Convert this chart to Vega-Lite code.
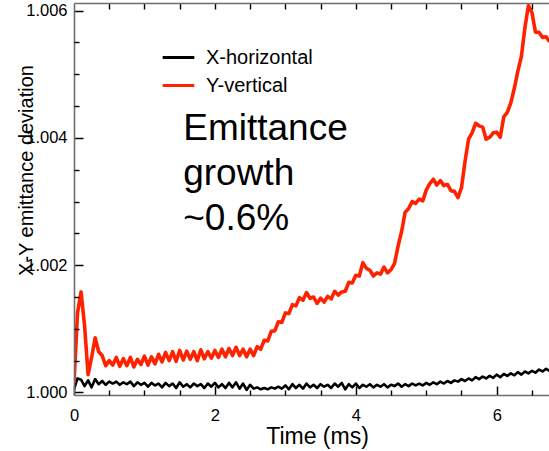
{
  "$schema": "https://vega.github.io/schema/vega-lite/v6.json",
  "width": 475,
  "height": 392,
  "autosize": {"type": "none"},
  "padding": {"left": 74, "top": 3, "right": 0, "bottom": 56},
  "background": "white",
  "config": {
    "view": {"stroke": null},
    "font": "Liberation Sans",
    "axis": {"grid": false, "domainColor": "#6e6e6e", "domainWidth": 1.6, "labelColor": "black", "titleColor": "black", "titleFontWeight": "normal"}
  },
  "datasets": {
    "emittance": [
      {"t": 0.00, "X-horizontal": 1.00005, "Y-vertical": 1.00015},
      {"t": 0.05, "X-horizontal": 1.00022, "Y-vertical": 1.00125},
      {"t": 0.10, "X-horizontal": 1.00020, "Y-vertical": 1.00158},
      {"t": 0.15, "X-horizontal": 1.00010, "Y-vertical": 1.00105},
      {"t": 0.20, "X-horizontal": 1.00019, "Y-vertical": 1.00028},
      {"t": 0.25, "X-horizontal": 1.00008, "Y-vertical": 1.00055},
      {"t": 0.30, "X-horizontal": 1.00021, "Y-vertical": 1.00086},
      {"t": 0.35, "X-horizontal": 1.00013, "Y-vertical": 1.00064},
      {"t": 0.40, "X-horizontal": 1.00018, "Y-vertical": 1.00058},
      {"t": 0.45, "X-horizontal": 1.00012, "Y-vertical": 1.00042},
      {"t": 0.50, "X-horizontal": 1.00017, "Y-vertical": 1.00050},
      {"t": 0.55, "X-horizontal": 1.00014, "Y-vertical": 1.00043},
      {"t": 0.60, "X-horizontal": 1.00017, "Y-vertical": 1.00055},
      {"t": 0.65, "X-horizontal": 1.00012, "Y-vertical": 1.00041},
      {"t": 0.70, "X-horizontal": 1.00016, "Y-vertical": 1.00053},
      {"t": 0.75, "X-horizontal": 1.00013, "Y-vertical": 1.00042},
      {"t": 0.80, "X-horizontal": 1.00017, "Y-vertical": 1.00055},
      {"t": 0.85, "X-horizontal": 1.00010, "Y-vertical": 1.00040},
      {"t": 0.90, "X-horizontal": 1.00016, "Y-vertical": 1.00052},
      {"t": 0.95, "X-horizontal": 1.00012, "Y-vertical": 1.00044},
      {"t": 1.00, "X-horizontal": 1.00015, "Y-vertical": 1.00057},
      {"t": 1.05, "X-horizontal": 1.00009, "Y-vertical": 1.00043},
      {"t": 1.10, "X-horizontal": 1.00015, "Y-vertical": 1.00056},
      {"t": 1.15, "X-horizontal": 1.00011, "Y-vertical": 1.00045},
      {"t": 1.20, "X-horizontal": 1.00014, "Y-vertical": 1.00060},
      {"t": 1.25, "X-horizontal": 1.00008, "Y-vertical": 1.00048},
      {"t": 1.30, "X-horizontal": 1.00015, "Y-vertical": 1.00063},
      {"t": 1.35, "X-horizontal": 1.00010, "Y-vertical": 1.00050},
      {"t": 1.40, "X-horizontal": 1.00014, "Y-vertical": 1.00064},
      {"t": 1.45, "X-horizontal": 1.00007, "Y-vertical": 1.00049},
      {"t": 1.50, "X-horizontal": 1.00016, "Y-vertical": 1.00066},
      {"t": 1.55, "X-horizontal": 1.00009, "Y-vertical": 1.00051},
      {"t": 1.60, "X-horizontal": 1.00013, "Y-vertical": 1.00065},
      {"t": 1.65, "X-horizontal": 1.00008, "Y-vertical": 1.00052},
      {"t": 1.70, "X-horizontal": 1.00014, "Y-vertical": 1.00064},
      {"t": 1.75, "X-horizontal": 1.00010, "Y-vertical": 1.00050},
      {"t": 1.80, "X-horizontal": 1.00013, "Y-vertical": 1.00067},
      {"t": 1.85, "X-horizontal": 1.00007, "Y-vertical": 1.00053},
      {"t": 1.90, "X-horizontal": 1.00014, "Y-vertical": 1.00064},
      {"t": 1.95, "X-horizontal": 1.00009, "Y-vertical": 1.00054},
      {"t": 2.00, "X-horizontal": 1.00015, "Y-vertical": 1.00066},
      {"t": 2.05, "X-horizontal": 1.00008, "Y-vertical": 1.00055},
      {"t": 2.10, "X-horizontal": 1.00013, "Y-vertical": 1.00068},
      {"t": 2.15, "X-horizontal": 1.00007, "Y-vertical": 1.00056},
      {"t": 2.20, "X-horizontal": 1.00015, "Y-vertical": 1.00069},
      {"t": 2.25, "X-horizontal": 1.00008, "Y-vertical": 1.00058},
      {"t": 2.30, "X-horizontal": 1.00016, "Y-vertical": 1.00071},
      {"t": 2.35, "X-horizontal": 1.00006, "Y-vertical": 1.00058},
      {"t": 2.40, "X-horizontal": 1.00014, "Y-vertical": 1.00068},
      {"t": 2.45, "X-horizontal": 1.00004, "Y-vertical": 1.00056},
      {"t": 2.50, "X-horizontal": 1.00012, "Y-vertical": 1.00068},
      {"t": 2.55, "X-horizontal": 1.00006, "Y-vertical": 1.00058},
      {"t": 2.60, "X-horizontal": 1.00008, "Y-vertical": 1.00072},
      {"t": 2.65, "X-horizontal": 1.00005, "Y-vertical": 1.00068},
      {"t": 2.70, "X-horizontal": 1.00007, "Y-vertical": 1.00082},
      {"t": 2.75, "X-horizontal": 1.00005, "Y-vertical": 1.00081},
      {"t": 2.80, "X-horizontal": 1.00008, "Y-vertical": 1.00096},
      {"t": 2.85, "X-horizontal": 1.00006, "Y-vertical": 1.00097},
      {"t": 2.90, "X-horizontal": 1.00009, "Y-vertical": 1.00111},
      {"t": 2.95, "X-horizontal": 1.00006, "Y-vertical": 1.00110},
      {"t": 3.00, "X-horizontal": 1.00011, "Y-vertical": 1.00125},
      {"t": 3.05, "X-horizontal": 1.00005, "Y-vertical": 1.00124},
      {"t": 3.10, "X-horizontal": 1.00013, "Y-vertical": 1.00138},
      {"t": 3.15, "X-horizontal": 1.00007, "Y-vertical": 1.00136},
      {"t": 3.20, "X-horizontal": 1.00012, "Y-vertical": 1.00149},
      {"t": 3.25, "X-horizontal": 1.00006, "Y-vertical": 1.00145},
      {"t": 3.30, "X-horizontal": 1.00014, "Y-vertical": 1.00157},
      {"t": 3.35, "X-horizontal": 1.00008, "Y-vertical": 1.00148},
      {"t": 3.40, "X-horizontal": 1.00012, "Y-vertical": 1.00150},
      {"t": 3.45, "X-horizontal": 1.00007, "Y-vertical": 1.00140},
      {"t": 3.50, "X-horizontal": 1.00013, "Y-vertical": 1.00148},
      {"t": 3.55, "X-horizontal": 1.00009, "Y-vertical": 1.00142},
      {"t": 3.60, "X-horizontal": 1.00012, "Y-vertical": 1.00151},
      {"t": 3.65, "X-horizontal": 1.00007, "Y-vertical": 1.00147},
      {"t": 3.70, "X-horizontal": 1.00014, "Y-vertical": 1.00159},
      {"t": 3.75, "X-horizontal": 1.00009, "Y-vertical": 1.00153},
      {"t": 3.80, "X-horizontal": 1.00015, "Y-vertical": 1.00158},
      {"t": 3.85, "X-horizontal": 1.00005, "Y-vertical": 1.00159},
      {"t": 3.90, "X-horizontal": 1.00013, "Y-vertical": 1.00173},
      {"t": 3.95, "X-horizontal": 1.00008, "Y-vertical": 1.00172},
      {"t": 4.00, "X-horizontal": 1.00014, "Y-vertical": 1.00184},
      {"t": 4.05, "X-horizontal": 1.00007, "Y-vertical": 1.00183},
      {"t": 4.10, "X-horizontal": 1.00012, "Y-vertical": 1.00204},
      {"t": 4.15, "X-horizontal": 1.00009, "Y-vertical": 1.00195},
      {"t": 4.20, "X-horizontal": 1.00013, "Y-vertical": 1.00192},
      {"t": 4.25, "X-horizontal": 1.00008, "Y-vertical": 1.00183},
      {"t": 4.30, "X-horizontal": 1.00012, "Y-vertical": 1.00188},
      {"t": 4.35, "X-horizontal": 1.00009, "Y-vertical": 1.00186},
      {"t": 4.40, "X-horizontal": 1.00013, "Y-vertical": 1.00197},
      {"t": 4.45, "X-horizontal": 1.00008, "Y-vertical": 1.00188},
      {"t": 4.50, "X-horizontal": 1.00012, "Y-vertical": 1.00193},
      {"t": 4.55, "X-horizontal": 1.00010, "Y-vertical": 1.00203},
      {"t": 4.60, "X-horizontal": 1.00014, "Y-vertical": 1.00230},
      {"t": 4.65, "X-horizontal": 1.00009, "Y-vertical": 1.00253},
      {"t": 4.70, "X-horizontal": 1.00013, "Y-vertical": 1.00283},
      {"t": 4.75, "X-horizontal": 1.00010, "Y-vertical": 1.00289},
      {"t": 4.80, "X-horizontal": 1.00014, "Y-vertical": 1.00300},
      {"t": 4.85, "X-horizontal": 1.00011, "Y-vertical": 1.00297},
      {"t": 4.90, "X-horizontal": 1.00014, "Y-vertical": 1.00304},
      {"t": 4.95, "X-horizontal": 1.00011, "Y-vertical": 1.00301},
      {"t": 5.00, "X-horizontal": 1.00015, "Y-vertical": 1.00318},
      {"t": 5.05, "X-horizontal": 1.00012, "Y-vertical": 1.00328},
      {"t": 5.10, "X-horizontal": 1.00016, "Y-vertical": 1.00335},
      {"t": 5.15, "X-horizontal": 1.00013, "Y-vertical": 1.00326},
      {"t": 5.20, "X-horizontal": 1.00017, "Y-vertical": 1.00333},
      {"t": 5.25, "X-horizontal": 1.00014, "Y-vertical": 1.00325},
      {"t": 5.30, "X-horizontal": 1.00018, "Y-vertical": 1.00327},
      {"t": 5.35, "X-horizontal": 1.00015, "Y-vertical": 1.00317},
      {"t": 5.40, "X-horizontal": 1.00019, "Y-vertical": 1.00316},
      {"t": 5.45, "X-horizontal": 1.00017, "Y-vertical": 1.00306},
      {"t": 5.50, "X-horizontal": 1.00021, "Y-vertical": 1.00322},
      {"t": 5.55, "X-horizontal": 1.00018, "Y-vertical": 1.00363},
      {"t": 5.60, "X-horizontal": 1.00022, "Y-vertical": 1.00398},
      {"t": 5.65, "X-horizontal": 1.00019, "Y-vertical": 1.00408},
      {"t": 5.70, "X-horizontal": 1.00024, "Y-vertical": 1.00423},
      {"t": 5.75, "X-horizontal": 1.00021, "Y-vertical": 1.00419},
      {"t": 5.80, "X-horizontal": 1.00025, "Y-vertical": 1.00417},
      {"t": 5.85, "X-horizontal": 1.00022, "Y-vertical": 1.00398},
      {"t": 5.90, "X-horizontal": 1.00026, "Y-vertical": 1.00401},
      {"t": 5.95, "X-horizontal": 1.00023, "Y-vertical": 1.00408},
      {"t": 6.00, "X-horizontal": 1.00028, "Y-vertical": 1.00409},
      {"t": 6.05, "X-horizontal": 1.00024, "Y-vertical": 1.00401},
      {"t": 6.10, "X-horizontal": 1.00029, "Y-vertical": 1.00433},
      {"t": 6.15, "X-horizontal": 1.00026, "Y-vertical": 1.00440},
      {"t": 6.20, "X-horizontal": 1.00030, "Y-vertical": 1.00455},
      {"t": 6.25, "X-horizontal": 1.00027, "Y-vertical": 1.00478},
      {"t": 6.30, "X-horizontal": 1.00032, "Y-vertical": 1.00505},
      {"t": 6.35, "X-horizontal": 1.00028, "Y-vertical": 1.00528},
      {"t": 6.40, "X-horizontal": 1.00033, "Y-vertical": 1.00573},
      {"t": 6.45, "X-horizontal": 1.00030, "Y-vertical": 1.00608},
      {"t": 6.50, "X-horizontal": 1.00034, "Y-vertical": 1.00597},
      {"t": 6.55, "X-horizontal": 1.00031, "Y-vertical": 1.00566},
      {"t": 6.60, "X-horizontal": 1.00036, "Y-vertical": 1.00566},
      {"t": 6.65, "X-horizontal": 1.00033, "Y-vertical": 1.00558},
      {"t": 6.70, "X-horizontal": 1.00037, "Y-vertical": 1.00559},
      {"t": 6.75, "X-horizontal": 1.00034, "Y-vertical": 1.00551}
    ],
    "note": [
      {"t": 1.55, "v": 1.003964, "label": "Emittance\ngrowth\n~0.6%"}
    ]
  },
  "resolve": {"axis": {"x": "independent", "y": "independent"}},
  "layer": [
    {
      "data": {"name": "emittance"},
      "transform": [
        {"fold": ["X-horizontal", "Y-vertical"], "as": ["series", "value"]},
        {"filter": "datum.series === 'X-horizontal'"}
      ],
      "mark": {"type": "line", "clip": true, "strokeJoin": "round", "strokeWidth": 2.6},
      "encoding": {
        "x": {
          "field": "t", "type": "quantitative",
          "scale": {"domain": [0, 6.742], "nice": false, "zero": false},
          "axis": {
            "orient": "bottom",
            "zindex": 2,
            "title": "Time (ms)",
            "titleFontSize": 23,
            "titleX": 243,
            "titleY": 48,
            "titleBaseline": "alphabetic",
            "values": [0, 2, 4, 6],
            "format": "d",
            "ticks": true,
            "tickColor": "black",
            "tickWidth": 1.5,
            "tickOpacity": 1,
            "tickSize": -9,
            "labelPadding": 21,
            "labelFontSize": 16.5,
            "labelFlush": false,
            "labelOverlap": false
          }
        },
        "y": {
          "field": "value", "type": "quantitative",
          "scale": {"domain": [0.99996, 1.00612], "nice": false, "zero": false},
          "axis": {
            "orient": "left",
            "zindex": 2,
            "title": "X-Y emittance deviation",
            "titleFontSize": 20,
            "titleAngle": -90,
            "titleX": -48,
            "titleY": 167,
            "titleAlign": "center",
            "titleBaseline": "middle",
            "values": [1, 1.002, 1.004, 1.006],
            "format": ".3f",
            "ticks": true,
            "tickColor": "black",
            "tickWidth": 1.5,
            "tickOpacity": 1,
            "tickSize": -9,
            "labelPadding": 16,
            "labelFontSize": 16.5,
            "labelFlush": false,
            "labelOverlap": false
          }
        },
        "color": {
          "field": "series", "type": "nominal",
          "scale": {"domain": ["X-horizontal", "Y-vertical"], "range": ["#000000", "#ff2200"]},
          "legend": {
            "title": null,
            "orient": "none",
            "legendX": 87,
            "legendY": 37,
            "padding": 0,
            "symbolType": "stroke",
            "symbolStrokeWidth": 3,
            "symbolSize": 1000,
            "labelFontSize": 20,
            "labelFont": "Liberation Sans",
            "labelColor": "black",
            "labelOffset": 10,
            "rowPadding": -8
          }
        }
      }
    },
    {
      "data": {"name": "emittance"},
      "transform": [
        {"fold": ["X-horizontal", "Y-vertical"], "as": ["series", "value"]},
        {"filter": "datum.series === 'Y-vertical'"}
      ],
      "mark": {"type": "line", "clip": true, "strokeJoin": "round", "strokeWidth": 3.6},
      "encoding": {
        "x": {
          "field": "t", "type": "quantitative",
          "scale": {"domain": [0, 6.742], "nice": false, "zero": false},
          "axis": {
            "orient": "bottom",
            "zindex": 2,
            "offset": -5,
            "title": null,
            "domain": false,
            "labels": false,
            "values": [0.5, 1, 1.5, 2.5, 3, 3.5, 4.5, 5, 5.5, 6.5],
            "ticks": true,
            "tickColor": "black",
            "tickWidth": 1.4,
            "tickOpacity": 1,
            "tickSize": 5
          }
        },
        "y": {
          "field": "value", "type": "quantitative",
          "scale": {"domain": [0.99996, 1.00612], "nice": false, "zero": false},
          "axis": {
            "orient": "left",
            "zindex": 2,
            "offset": -5,
            "title": null,
            "domain": false,
            "labels": false,
            "values": [1.0005, 1.001, 1.0015, 1.0025, 1.003, 1.0035, 1.0045, 1.005, 1.0055],
            "ticks": true,
            "tickColor": "black",
            "tickWidth": 1.4,
            "tickOpacity": 1,
            "tickSize": 5
          }
        },
        "color": {"field": "series", "type": "nominal"}
      }
    },
    {
      "data": {"name": "note"},
      "mark": {"type": "text", "align": "left", "baseline": "alphabetic", "fontSize": 37, "lineHeight": 45, "lineBreak": "\n", "color": "black", "font": "Liberation Sans"},
      "encoding": {
        "x": {
          "field": "t", "type": "quantitative",
          "scale": {"domain": [0, 6.742], "nice": false, "zero": false},
          "axis": {
            "orient": "top",
            "zindex": 2,
            "title": null,
            "labels": false,
            "values": [0.5, 1, 1.5, 2, 2.5, 3, 3.5, 4, 4.5, 5, 5.5, 6, 6.5],
            "ticks": true,
            "tickColor": "black",
            "tickWidth": 1.4,
            "tickOpacity": 1,
            "tickSize": -6
          }
        },
        "y": {
          "field": "v", "type": "quantitative",
          "scale": {"domain": [0.99996, 1.00612], "nice": false, "zero": false},
          "axis": null
        },
        "text": {"field": "label"}
      }
    }
  ]
}
